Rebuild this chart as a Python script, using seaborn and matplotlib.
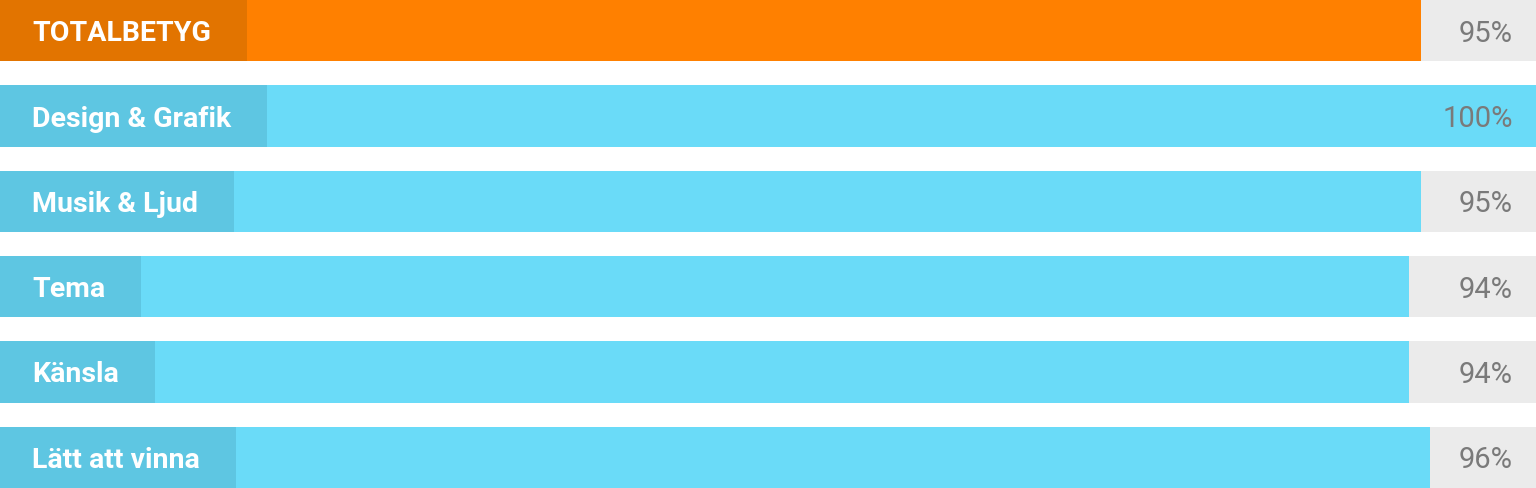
import matplotlib
matplotlib.use("Agg")
import matplotlib.pyplot as plt
import matplotlib.transforms as mtransforms
import seaborn as sns
import pandas as pd

categories = ["TOTALBETYG", "Design & Grafik", "Musik & Ljud", "Tema", "Känsla", "Lätt att vinna"]
bar_values = [92.5, 100.0, 92.5, 91.7, 91.7, 93.1]
value_labels = ["95%", "100%", "95%", "94%", "94%", "96%"]
bar_colors = ["#ff8000", "#6adbf8", "#6adbf8", "#6adbf8", "#6adbf8", "#6adbf8"]
label_box_colors = ["#e27400", "#5ec6e2", "#5ec6e2", "#5ec6e2", "#5ec6e2", "#5ec6e2"]

sns.set_theme(style="white")
plt.rcParams["font.family"] = ["Roboto", "DejaVu Sans"]

W, H, DPI = 1536, 488, 100
fig = plt.figure(figsize=(W / DPI, H / DPI), dpi=DPI)
ax = fig.add_axes([0, 0, 1, 1])

df = pd.DataFrame({"cat": categories, "val": bar_values, "full": [100.0] * len(categories)})
bw = 0.72

sns.barplot(data=df, x="full", y="cat", orient="h", color="#ebebeb", width=bw,
            saturation=1, linewidth=0, ax=ax)
sns.barplot(data=df, x="val", y="cat", orient="h", hue="cat", palette=bar_colors,
            width=bw, saturation=1, linewidth=0, legend=False, ax=ax)

ax.set_xlim(0, 100)
ax.set_ylim(len(categories) - 1 + bw / 2, -bw / 2)
ax.axis("off")

pad_left, pad_right = 32, 36
label_tr = mtransforms.offset_copy(ax.transData, fig=fig, x=pad_left, y=0, units="dots")
val_tr = mtransforms.offset_copy(ax.transData, fig=fig, x=-23, y=0, units="dots")

fig.canvas.draw()
renderer = fig.canvas.get_renderer()
for i, (cat, lab) in enumerate(zip(categories, value_labels)):
    t = ax.text(0, i, cat, transform=label_tr, ha="left", va="center_baseline",
                fontsize=20.5, fontweight="bold", color="white", zorder=5)
    tw = t.get_window_extent(renderer=renderer).width
    box_w = (tw + pad_left + pad_right) / W * 100
    ax.barh(i, box_w, height=bw, left=0, color=label_box_colors[i], zorder=4, linewidth=0)
    ax.text(100, i, lab, transform=val_tr, ha="right", va="center_baseline",
            fontsize=21, fontweight="normal", color="#7a7a7a", zorder=5)

fig.savefig("out.png", dpi=DPI)
